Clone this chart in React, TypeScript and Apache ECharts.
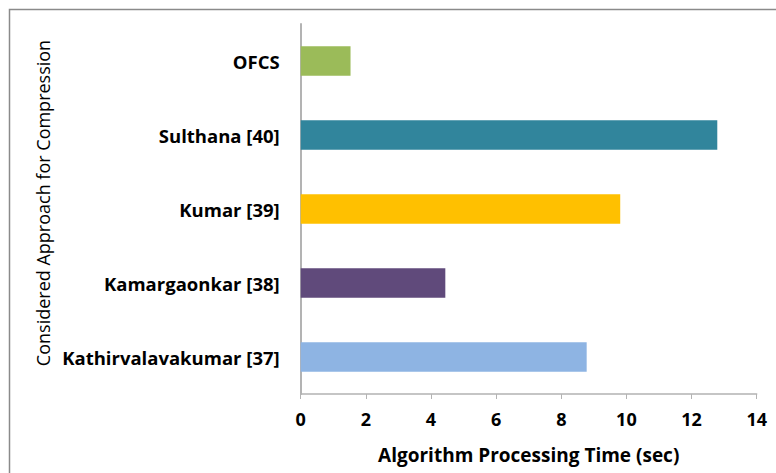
import React, { useEffect, useRef } from "react";
import * as echarts from "echarts";

const categories = ["Kathirvalavakumar [37]", "Kamargaonkar [38]", "Kumar [39]", "Sulthana [40]", "OFCS"];
const values = [8.78, 4.44, 9.81, 12.79, 1.53];
const barColors = ["#8EB4E3", "#604A7B", "#FFC000", "#31859C", "#9BBB59"];
const xTicks = { min: 0, max: 14, interval: 2 };
const xAxisTitle = "Algorithm Processing Time (sec)";
const yAxisTitle = "Considered Approach for Compression";

const FONT = "'Open Sans', 'Liberation Sans', sans-serif";

export default function App() {
  const ref = useRef<HTMLDivElement>(null);
  useEffect(() => {
    if (!ref.current) return;
    const chart = echarts.init(ref.current, null, { renderer: "svg" });
    chart.setOption({
      animation: false,
      backgroundColor: "#ffffff",
      grid: { left: 300.7, right: 19.3, top: 24, bottom: 79, containLabel: false },
      graphic: [
        {
          type: "rect",
          shape: { x: 9.5, y: 9.5, width: 800, height: 500 },
          style: { fill: "none", stroke: "#8a8a8a", lineWidth: 1.5 },
          silent: true,
        },
        {
          type: "text",
          x: 43,
          y: 203,
          rotation: Math.PI / 2,
          style: {
            text: yAxisTitle,
            font: `normal 18px ${FONT}`,
            fill: "#000",
            align: "center",
            verticalAlign: "middle",
          },
        },
      ],
      xAxis: {
        type: "value",
        min: xTicks.min,
        max: xTicks.max,
        interval: xTicks.interval,
        name: xAxisTitle,
        nameLocation: "middle",
        nameGap: 51,
        nameTextStyle: { fontFamily: FONT, fontWeight: "bold", fontSize: 19, color: "#000" },
        axisLine: { show: true, lineStyle: { color: "#b3b3b3", width: 1.5 } },
        axisTick: { show: true, length: 5, lineStyle: { color: "#b3b3b3" } },
        axisLabel: { fontFamily: FONT, fontWeight: "bold", fontSize: 18, color: "#000", margin: 16 },
        splitLine: { show: false },
      },
      yAxis: {
        type: "category",
        data: categories,
        axisLine: { show: true, lineStyle: { color: "#b3b3b3", width: 2 } },
        axisTick: { show: false },
        axisLabel: { fontFamily: FONT, fontWeight: "bold", fontSize: 18.5, color: "#000", margin: 21 },
      },
      series: [
        {
          type: "bar",
          data: values.map((v, i) => ({ value: v, itemStyle: { color: barColors[i] } })),
          barCategoryGap: "60%",
        },
      ],
    });
    return () => chart.dispose();
  }, []);
  return <div ref={ref} style={{ width: 776, height: 473, position: "absolute", left: 0, top: 0 }} />;
}
